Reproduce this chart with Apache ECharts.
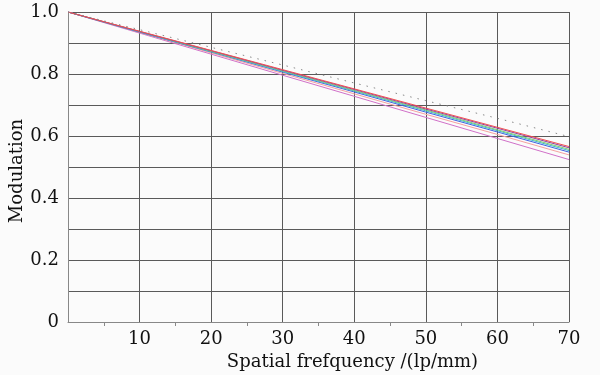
<!DOCTYPE html>
<html>
<head>
<meta charset="utf-8">
<script src="https://cdn.jsdelivr.net/npm/echarts@6/dist/echarts.min.js"></script>
<style>
  html, body { margin: 0; padding: 0; background: #fbfbfb; }
  #chart { width: 600px; height: 375px; }
</style>
</head>
<body>
<div id="chart"></div>
<script>
const frequencies = [0, 10, 20, 30, 40, 50, 60, 70];

const diffractionLimit = [1, 0.943, 0.886, 0.829, 0.771, 0.714, 0.657, 0.598];
const fieldRed = [1, 0.938, 0.876, 0.814, 0.752, 0.690, 0.628, 0.566];
const fieldPurple = [1, 0.937, 0.875, 0.812, 0.750, 0.687, 0.625, 0.562];
const fieldGreen = [1, 0.937, 0.873, 0.810, 0.747, 0.684, 0.620, 0.557];
const fieldCyan = [1, 0.936, 0.872, 0.808, 0.745, 0.681, 0.617, 0.553];
const fieldBlue = [1, 0.935, 0.871, 0.806, 0.742, 0.677, 0.613, 0.548];
const fieldSalmon = [1, 0.934, 0.868, 0.802, 0.736, 0.670, 0.605, 0.539];
const fieldMagenta = [1, 0.932, 0.864, 0.796, 0.728, 0.660, 0.592, 0.524];

const curves = [
    { values: fieldMagenta, color: "#d070c8" },
    { values: fieldSalmon, color: "#f4a0a0" },
    { values: fieldBlue, color: "#4060e0" },
    { values: fieldCyan, color: "#40b8d0" },
    { values: fieldGreen, color: "#80cc70" },
    { values: fieldPurple, color: "#9040a0" },
    { values: fieldRed, color: "#f05050" },
];

const serif = "'DejaVu Serif', 'Liberation Serif', serif";
const chart = echarts.init(document.getElementById("chart"));

const toPairs = (values) => values.map((v, i) => [frequencies[i], v]);

const series = curves.map((curve) => ({
    type: "line",
    data: toPairs(curve.values),
    symbol: "none",
    lineStyle: { color: curve.color, width: 1 },
    silent: true,
}));

series.push({
    type: "line",
    data: toPairs(diffractionLimit),
    symbol: "none",
    lineStyle: { color: "#888", width: 1, type: [1.5, 6] },
    silent: true,
});

const option = {
    animation: false,
    backgroundColor: "#fbfbfb",
    grid: { left: 68, right: 31, top: 12, bottom: 53, containLabel: false, outerBoundsMode: "none" },
    xAxis: {
        type: "value",
        min: 0,
        max: 70,
        interval: 10,
        name: "Spatial frefquency /(lp/mm)",
        nameLocation: "middle",
        nameGap: 30,
        // the title sits right of the plot centre in the original
        nameTextStyle: { fontFamily: serif, fontSize: 18, color: "#111", padding: [0, 0, 0, 68] },
        axisLine: { show: true, lineStyle: { color: "#888" } },
        axisTick: { show: false },
        minorTick: { show: true, splitNumber: 2, length: 4, lineStyle: { color: "#888" } },
        axisLabel: {
            fontFamily: serif,
            fontSize: 18,
            color: "#111",
            margin: 8,
            formatter: (v) => (v === 0 ? "" : String(v)),
        },
        splitLine: { show: true, lineStyle: { color: "#5a5a5a", width: 1 } },
    },
    yAxis: {
        type: "value",
        min: 0,
        max: 1,
        interval: 0.1,
        name: "Modulation",
        nameLocation: "middle",
        nameGap: 42,
        nameMoveOverlap: false,
        nameTextStyle: { fontFamily: serif, fontSize: 18, color: "#111", padding: [0, 8, 0, 0] },
        axisLine: { show: true, lineStyle: { color: "#888" } },
        axisTick: { show: false },
        axisLabel: {
            fontFamily: serif,
            fontSize: 18,
            color: "#111",
            margin: 9,
            formatter: (v) => {
                const tenth = Math.round(v * 10);
                if (tenth % 2 !== 0) return "";
                return tenth === 0 ? "0" : (tenth / 10).toFixed(1);
            },
        },
        splitLine: { show: true, lineStyle: { color: "#5a5a5a", width: 1 } },
    },
    series,
};

chart.setOption(option);
</script>
</body>
</html>
